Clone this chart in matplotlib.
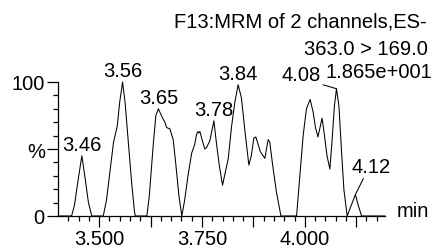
import numpy as np
import matplotlib
matplotlib.use('Agg')
import matplotlib.pyplot as plt

plt.rcParams['font.family'] = ['Liberation Sans', 'DejaVu Sans']

# Chromatogram trace (time in min, relative intensity in %)
time = [3.400, 3.433, 3.440, 3.448, 3.458, 3.466, 3.474, 3.482, 3.510, 3.518,
        3.527, 3.535, 3.544, 3.550, 3.557, 3.563, 3.571, 3.579, 3.586, 3.588,
        3.616, 3.622, 3.632, 3.638, 3.644, 3.650, 3.656, 3.660, 3.664, 3.672,
        3.680, 3.686, 3.694, 3.701, 3.708, 3.716, 3.725, 3.732, 3.737, 3.740,
        3.742, 3.745, 3.752, 3.757, 3.761, 3.769, 3.779, 3.785, 3.792, 3.800,
        3.807, 3.814, 3.822, 3.830, 3.838, 3.846, 3.855, 3.864, 3.870, 3.876,
        3.881, 3.885, 3.892, 3.903, 3.908, 3.911, 3.915, 3.921, 3.931, 3.942,
        3.980, 3.988, 3.996, 4.004, 4.013, 4.020, 4.026, 4.032, 4.037, 4.042,
        4.047, 4.054, 4.061, 4.066, 4.072, 4.077, 4.083, 4.089, 4.095, 4.103,
        4.113, 4.123, 4.130, 4.138, 4.195]
intensity = [0, 0, 8, 25, 45, 28, 10, 0, 0, 12,
             35, 55, 67, 85, 100, 85, 55, 25, 3, 0,
             0, 15, 55, 75, 80, 76, 72, 70, 66, 65,
             57, 40, 15, 0, 12, 30, 47, 53, 61, 63,
             62, 63, 55, 50, 51, 56, 71, 55, 38, 23,
             33, 43, 67, 85, 98, 88, 62, 38, 45, 58,
             59, 55, 48, 43, 52, 57, 55, 40, 18, 0,
             0, 30, 60, 80, 87, 78, 66, 59, 66, 73,
             62, 45, 35, 55, 82, 95, 82, 50, 20, 0,
             8, 16, 8, 0, 0]

# Peak labels: (label, apex time, apex %)
peak_labels = ['3.46', '3.56', '3.65', '3.78', '3.84', '4.08', '4.12']
peak_time = [3.458, 3.557, 3.644, 3.779, 3.838, 4.077, 4.123]
peak_pct = [45, 100, 80, 71, 98, 95, 16]

header = ['F13:MRM of 2 channels,ES-', '363.0 > 169.0', '1.865e+001']

fig = plt.figure(figsize=(4.33, 2.51), dpi=100)
ax = fig.add_axes([58 / 433, 1 - 217 / 251, (385 - 58) / 433, (217 - 83) / 251])

ax.plot(time, intensity, color='black', lw=0.75, clip_on=False)
ax.set_xlim(3.40, 4.195)
ax.set_ylim(0, 100)

for s in ['top', 'right']:
    ax.spines[s].set_visible(False)
for s in ['left', 'bottom']:
    ax.spines[s].set_linewidth(0.9)

fs = 14.5
ax.set_xticks([3.5, 3.625, 3.75, 3.875, 4.0, 4.125])
ax.set_xticklabels(['3.500', '', '3.750', '', '4.000', ''])
ax.set_xticks(np.arange(3.425, 4.19, 0.025), minor=True)
ax.set_yticks([0, 50, 100])
ax.set_yticklabels(['0', '%', '100'])
ax.set_yticks(np.arange(0, 101, 10), minor=True)
ax.tick_params(which='major', length=8, width=0.9, labelsize=fs, pad=1.5)
ax.tick_params(axis='x', which='major', pad=1.5)
ax.tick_params(which='minor', length=3.6, width=0.9)

ax.text(1.035, 0.0, 'min', transform=ax.transAxes, fontsize=fs,
        ha='left', va='baseline')

# peak apex labels
for lab, t, p in zip(peak_labels, peak_time, peak_pct):
    if lab == '4.08':
        ax.annotate(lab, xy=(t, p), xytext=(3.990, 98.5), fontsize=fs,
                    ha='center', va='bottom', annotation_clip=False,
                    arrowprops=dict(arrowstyle='-', lw=0.75, color='black',
                                    relpos=(1.0, 0.0), shrinkA=0, shrinkB=0))
    elif lab == '4.12':
        ax.annotate(lab, xy=(t, p), xytext=(4.160, 30), fontsize=fs,
                    ha='center', va='bottom', annotation_clip=False,
                    arrowprops=dict(arrowstyle='-', lw=0.75, color='black',
                                    relpos=(0.35, 0.0), shrinkA=0, shrinkB=0))
    else:
        ax.text(t, p + 1.5, lab, fontsize=fs, ha='center', va='bottom')

fig.text(427 / 433, 1 - 28 / 251, header[0], fontsize=fs, ha='right', va='baseline')
fig.text(428 / 433, 1 - 55 / 251, header[1], fontsize=fs, ha='right', va='baseline')
fig.text(432 / 433, 1 - 78 / 251, header[2], fontsize=fs, ha='right', va='baseline')

fig.savefig('out.png', dpi=100)
